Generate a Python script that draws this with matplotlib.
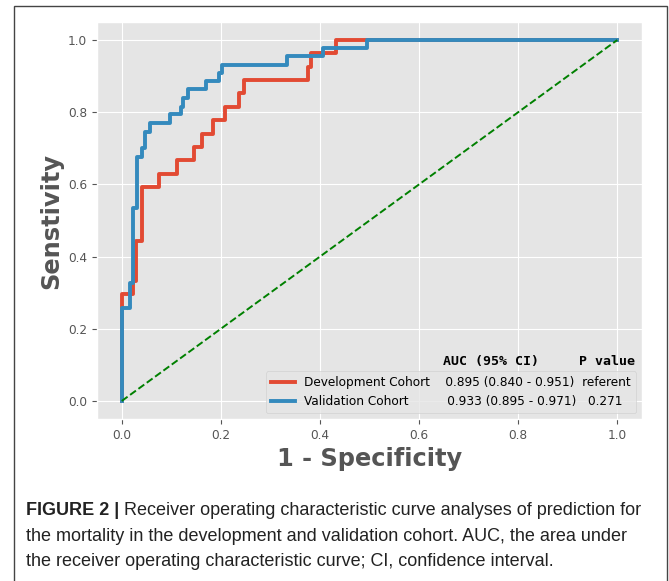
import matplotlib
matplotlib.use("Agg")
import matplotlib.pyplot as plt
from matplotlib.patches import Rectangle

plt.style.use('ggplot')
plt.rcParams['font.size'] = 8.7

# ROC curve corners (fpr, tpr)
dev_fpr = [0, 0, 0.023, 0.029, 0.040, 0.076, 0.111, 0.145, 0.162, 0.185,
           0.208, 0.237, 0.247, 0.376, 0.381, 0.432, 1.0]
dev_tpr = [0, 0.296, 0.333, 0.444, 0.593, 0.630, 0.667, 0.704, 0.741, 0.778,
           0.815, 0.852, 0.889, 0.926, 0.963, 1.0, 1.0]

val_fpr = [0, 0, 0.017, 0.023, 0.031, 0.040, 0.046, 0.056, 0.098, 0.119,
           0.123, 0.133, 0.170, 0.196, 0.203, 0.334, 0.406, 0.494, 1.0]
val_tpr = [0, 0.258, 0.327, 0.536, 0.677, 0.700, 0.746, 0.769, 0.794, 0.815,
           0.840, 0.863, 0.886, 0.909, 0.932, 0.955, 0.977, 1.0, 1.0]

dev_label = 'Development Cohort    0.895 (0.840 - 0.951)  referent'
val_label = 'Validation Cohort          0.933 (0.895 - 0.971)   0.271'
header = 'AUC (95% CI)     P value'

caption_bold = 'FIGURE 2 |'
caption_lines = [
    'Receiver operating characteristic curve analyses of prediction for',
    'the mortality in the development and validation cohort. AUC, the area under',
    'the receiver operating characteristic curve; CI, confidence interval.',
]

W, H = 669, 581
fig = plt.figure(figsize=(W / 100, H / 100), dpi=100)
fig.patch.set_facecolor('white')
ax = fig.add_axes([97 / W, 1 - 419 / H, 545 / W, 397 / H])

ax.plot(dev_fpr, dev_tpr, drawstyle='steps-post', color='#E24A33', lw=2.8, label=dev_label)
ax.plot(val_fpr, val_tpr, drawstyle='steps-post', color='#348ABD', lw=2.8, label=val_label)
ax.plot([0, 1], [0, 1], 'g--', lw=1.4)

ax.set_xlim(-0.05, 1.05)
ax.set_ylim(-0.05, 1.05)
ax.set_xlabel('1 - Specificity', fontsize=17.4, fontweight='bold', color='#555555')
ax.set_ylabel('Senstivity', fontsize=17.4, fontweight='bold', color='#555555', labelpad=3.5)
ax.legend(loc='lower right', fontsize=8.7)
ax.text(0.987, 0.146, header, transform=ax.transAxes, ha='right', va='center',
        family='monospace', fontweight='bold', fontsize=9.5, color='black')

# outer frame around figure + caption
fig.patches.append(Rectangle((14 / W, -0.1), (667 - 14) / W, 1.1 - 6 / H,
                             transform=fig.transFigure, fill=False,
                             edgecolor='#444444', lw=1.0, clip_on=False))

cap_font = ['Liberation Sans', 'DejaVu Sans']
cap_size = 13
ys = [510.7, 536.7, 561.7]
tb = fig.text(26 / W, 1 - ys[0] / H, caption_bold, family=cap_font, fontweight='bold',
              fontsize=cap_size, color='#222222', va='center')
fig.canvas.draw()
bb = tb.get_window_extent()
fig.text((bb.x1 + 5) / W, 1 - ys[0] / H, caption_lines[0], family=cap_font,
         fontsize=cap_size, color='#222222', va='center')
for y, line in zip(ys[1:], caption_lines[1:]):
    fig.text(26 / W, 1 - y / H, line, family=cap_font, fontsize=cap_size,
             color='#222222', va='center')

fig.savefig('out.png', dpi=100)
